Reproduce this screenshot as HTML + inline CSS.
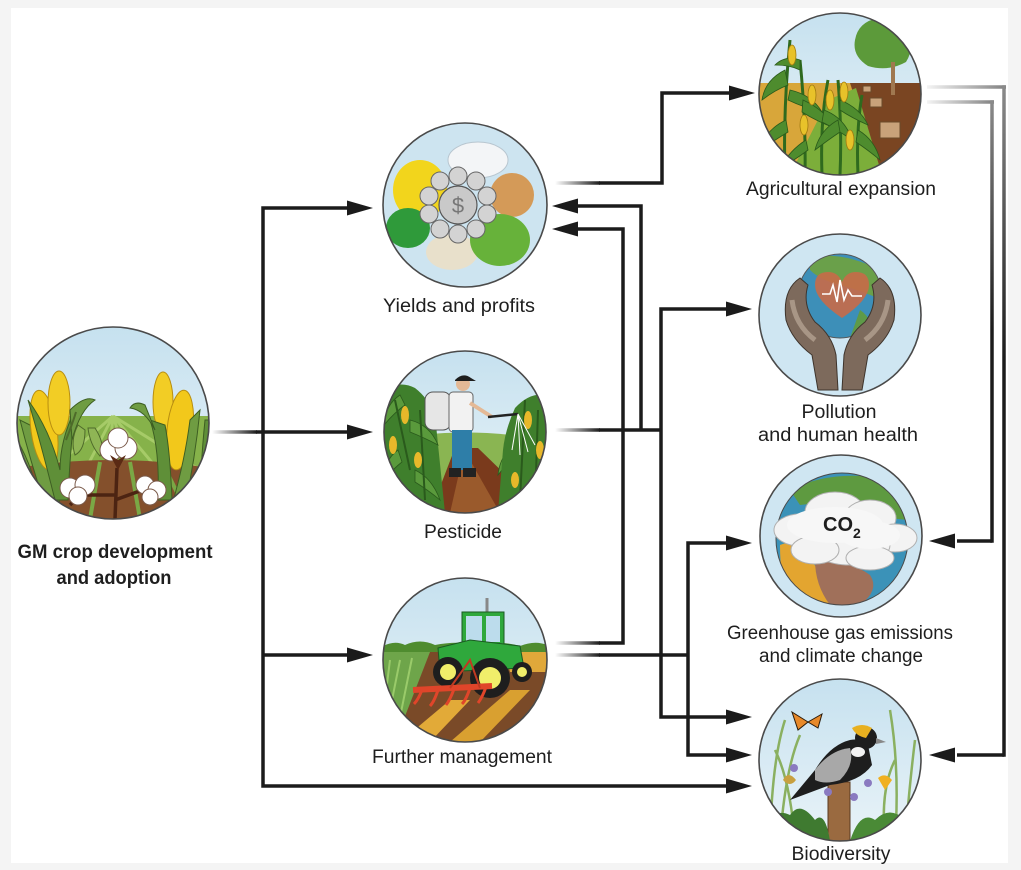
<!DOCTYPE html>
<html><head><meta charset="utf-8"><style>
html,body{margin:0;padding:0;background:#f4f4f4;}
svg{display:block;}
text{font-family:"Liberation Sans",sans-serif;fill:#1e1e1e;}
</style></head><body>
<svg width="1021" height="870" viewBox="0 0 1021 870" xmlns="http://www.w3.org/2000/svg">
<defs>
<linearGradient id="fade" x1="0" y1="0" x2="1" y2="0"><stop offset="0" stop-color="#1b1b1b" stop-opacity="0"/><stop offset="1" stop-color="#1b1b1b"/></linearGradient>
<linearGradient id="fadeR" x1="0" y1="0" x2="1" y2="0"><stop offset="0" stop-color="#1b1b1b" stop-opacity="0.05"/><stop offset="1" stop-color="#1b1b1b" stop-opacity="0.55"/></linearGradient>
<linearGradient id="vOuter" gradientUnits="userSpaceOnUse" x1="0" y1="87" x2="0" y2="360"><stop offset="0" stop-color="#8a8a8a"/><stop offset="1" stop-color="#1b1b1b"/></linearGradient>
<linearGradient id="vInner" gradientUnits="userSpaceOnUse" x1="0" y1="102" x2="0" y2="330"><stop offset="0" stop-color="#8a8a8a"/><stop offset="1" stop-color="#1b1b1b"/></linearGradient>
<linearGradient id="sky" x1="0" y1="0" x2="0" y2="1"><stop offset="0" stop-color="#c6e1ef"/><stop offset="1" stop-color="#e9f3f8"/></linearGradient>
<clipPath id="c0"><circle cx="113" cy="423" r="96"/></clipPath>
<clipPath id="c1"><circle cx="465" cy="205" r="82"/></clipPath>
<clipPath id="c2"><circle cx="465" cy="432" r="81"/></clipPath>
<clipPath id="c3"><circle cx="465" cy="660" r="82"/></clipPath>
<clipPath id="c4"><circle cx="840" cy="94" r="81"/></clipPath>
<clipPath id="c5"><circle cx="840" cy="315" r="81"/></clipPath>
<clipPath id="c6"><circle cx="841" cy="536" r="81"/></clipPath>
<clipPath id="c7"><circle cx="840" cy="760" r="81"/></clipPath>
<clipPath id="g6"><circle cx="842" cy="539" r="66"/></clipPath>
<clipPath id="g5"><circle cx="840" cy="296" r="42"/></clipPath>
</defs>

<rect x="0" y="0" width="1021" height="870" fill="#f4f4f4"/>
<rect x="11" y="8" width="997" height="855" fill="#ffffff"/>

<!-- ===== CONNECTORS ===== -->
<g fill="#1b1b1b">
<rect x="212" y="430.25" width="45" height="3.5" fill="url(#fade)"/>
<rect x="555" y="181.25" width="45" height="3.5" fill="url(#fade)"/>
<rect x="555" y="428.25" width="45" height="3.5" fill="url(#fade)"/>
<rect x="555" y="641.25" width="45" height="3.5" fill="url(#fade)"/>
<rect x="555" y="653.25" width="45" height="3.5" fill="url(#fade)"/>
</g>
<g fill="none" stroke="#1b1b1b" stroke-width="3.5" stroke-linejoin="miter" stroke-linecap="butt">
<path d="M256 432 H349"/>
<path d="M349 208 H263 V786 H728"/>
<path d="M263 655 H349"/>
<path d="M599 183 H662 V93 H731"/>
<path d="M599 430 H661"/>
<path d="M641 430 V206 H576"/>
<path d="M599 643 H623 V229 H576"/>
<path d="M728 309 H661 V717 H728"/>
<path d="M599 655 H688"/>
<path d="M728 543 H688 V755 H728"/>
<path d="M957 755 H1004"/>
<path d="M957 541 H992"/>
</g>
<rect x="927" y="85.25" width="79" height="3.5" fill="url(#fadeR)"/>
<rect x="1002.25" y="85.25" width="3.5" height="671.5" fill="url(#vOuter)"/>
<rect x="927" y="100.25" width="67" height="3.5" fill="url(#fadeR)"/>
<rect x="990.25" y="100.25" width="3.5" height="442.5" fill="url(#vInner)"/>
<g fill="#1b1b1b">
<polygon points="373,208 347,200.5 347,215.5"/>
<polygon points="373,432 347,424.5 347,439.5"/>
<polygon points="373,655 347,647.5 347,662.5"/>
<polygon points="752,786 726,778.5 726,793.5"/>
<polygon points="755,93 729,85.5 729,100.5"/>
<polygon points="552,206 578,198.5 578,213.5"/>
<polygon points="552,229 578,221.5 578,236.5"/>
<polygon points="752,309 726,301.5 726,316.5"/>
<polygon points="752,717 726,709.5 726,724.5"/>
<polygon points="752,543 726,535.5 726,550.5"/>
<polygon points="752,755 726,747.5 726,762.5"/>
<polygon points="929,541 955,533.5 955,548.5"/>
<polygon points="929,755 955,747.5 955,762.5"/>
</g>

<!-- ===== GM CROP CIRCLE ===== -->
<g clip-path="url(#c0)">
<rect x="17" y="327" width="192" height="192" fill="url(#sky)"/>
<rect x="17" y="416" width="192" height="103" fill="#86b24a"/>
<g stroke="#a6cb68" stroke-width="3" fill="none">
<path d="M113 416 L40 480 M113 416 L75 490 M113 416 L105 500 M113 416 L140 500 M113 416 L175 490 M113 416 L200 470"/>
</g>
<path d="M17 468 Q113 452 209 468 V519 H17Z" fill="#84502c"/>
<g stroke="#7aa845" stroke-width="4" fill="none">
<path d="M60 470 L35 519 M100 462 L90 519 M130 462 L140 519 M165 468 L190 519"/>
</g>
<path d="M20 420 Q30 460 45 505 L60 505 Q50 460 40 430Z" fill="#6f9c42" stroke="#3d5e22" stroke-width="1"/>
<ellipse cx="44" cy="430" rx="13" ry="40" fill="#f2c81b" stroke="#b88e10" stroke-width="1" transform="rotate(-8 44 430)"/>
<ellipse cx="59" cy="403" rx="11" ry="32" fill="#f2cd25" stroke="#b88e10" stroke-width="1"/>
<path d="M28 400 Q40 440 55 500 L68 500 Q70 450 75 410 Q60 440 60 470 Q50 430 28 400Z" fill="#5f8f38" stroke="#3d5e22" stroke-width="1"/>
<path d="M70 410 Q85 395 95 400 Q80 410 72 440Z" fill="#6f9c42" stroke="#3d5e22" stroke-width="1"/>
<path d="M17 440 Q35 470 40 510 L28 510 Q22 480 17 470Z" fill="#6f9c42" stroke="#3d5e22" stroke-width="1"/>
<path d="M78 425 Q70 440 75 455 Q85 450 85 430Z" fill="#8fb555" stroke="#4e6a2a" stroke-width="1"/>
<path d="M88 428 Q90 445 100 456 Q106 445 95 428Z" fill="#8fb555" stroke="#4e6a2a" stroke-width="1"/>
<path d="M76 412 Q72 425 66 440" stroke="#4e6a2a" stroke-width="2" fill="none"/>
<ellipse cx="163" cy="402" rx="10" ry="30" fill="#f2cd25" stroke="#b88e10" stroke-width="1"/>
<ellipse cx="180" cy="430" rx="13" ry="40" fill="#f2c81b" stroke="#b88e10" stroke-width="1" transform="rotate(6 180 430)"/>
<path d="M150 420 Q160 450 158 500 L172 500 Q170 450 165 425Z" fill="#5f8f38" stroke="#3d5e22" stroke-width="1"/>
<path d="M200 410 Q195 460 185 505 L172 505 Q185 460 190 420Z" fill="#6f9c42" stroke="#3d5e22" stroke-width="1"/>
<path d="M205 420 Q200 470 200 510 L209 510 V420Z" fill="#5f8f38" stroke="#3d5e22" stroke-width="1"/>
<path d="M145 405 Q135 400 130 408 Q145 410 155 430Z" fill="#6f9c42" stroke="#3d5e22" stroke-width="1"/>
<path d="M117 468 L115 519 M115 495 L80 495 M115 500 L148 488 M80 495 L70 505" stroke="#4c2412" stroke-width="3.5" fill="none"/>
<g fill="#ffffff" stroke="#7a5a4a" stroke-width="1">
<circle cx="111" cy="450" r="11"/><circle cx="126" cy="448" r="11"/><circle cx="118" cy="438" r="10"/>
<circle cx="70" cy="488" r="10"/><circle cx="85" cy="485" r="10"/><circle cx="78" cy="496" r="9"/>
<circle cx="145" cy="485" r="9"/><circle cx="157" cy="490" r="9"/><circle cx="150" cy="497" r="8"/>
</g>
<path d="M110 455 L118 470 L126 455 L118 460Z" fill="#5a2a14"/>
</g>
<circle cx="113" cy="423" r="96" fill="none" stroke="#4a4a4a" stroke-width="1.6"/>

<!-- ===== YIELDS ===== -->
<g clip-path="url(#c1)">
<rect x="383" y="123" width="164" height="164" fill="#cde4f0"/>
<ellipse cx="478" cy="160" rx="30" ry="18" fill="#f3f5f7" stroke="#b8c6d0" stroke-width="1"/>
<ellipse cx="420" cy="190" rx="27" ry="30" fill="#f2d51c"/>
<ellipse cx="512" cy="195" rx="22" ry="22" fill="#d49a58"/>
<ellipse cx="408" cy="228" rx="22" ry="20" fill="#2f9a3a"/>
<ellipse cx="452" cy="252" rx="26" ry="18" fill="#e8e0cb"/>
<ellipse cx="500" cy="240" rx="30" ry="26" fill="#67b23a"/>
<g fill="#d3d3d3" stroke="#666" stroke-width="1">
<circle cx="458" cy="176" r="9"/><circle cx="476" cy="181" r="9"/><circle cx="487" cy="196" r="9"/><circle cx="487" cy="214" r="9"/>
<circle cx="476" cy="229" r="9"/><circle cx="458" cy="234" r="9"/><circle cx="440" cy="229" r="9"/><circle cx="429" cy="214" r="9"/>
<circle cx="429" cy="196" r="9"/><circle cx="440" cy="181" r="9"/>
</g>
<circle cx="458" cy="205" r="19" fill="#c9c9c9" stroke="#555" stroke-width="1.2"/>
<text x="458" y="213" font-size="22" text-anchor="middle" style="fill:#777">$</text>
</g>
<circle cx="465" cy="205" r="82" fill="none" stroke="#4a4a4a" stroke-width="1.6"/>

<!-- ===== PESTICIDE ===== -->
<g clip-path="url(#c2)">
<rect x="384" y="351" width="162" height="162" fill="url(#sky)"/>
<path d="M384 440 Q465 425 546 440 V513 H384Z" fill="#8ab552"/>
<path d="M430 513 L455 448 L478 448 L545 513Z" fill="#7a3a1c"/>
<path d="M450 513 L462 460 L470 460 L500 513Z" fill="#9a5a2c"/>
<path d="M384 390 Q400 380 415 388 Q428 398 435 415 L445 513 L384 513Z" fill="#3f7f2c"/>
<g fill="#5a9a3c" stroke="#2a5a1c" stroke-width="0.8">
<path d="M400 395 Q385 405 384 425 Q395 412 405 405Z"/><path d="M410 420 Q430 425 438 445 Q425 438 410 432Z"/>
<path d="M398 450 Q384 460 384 480 Q394 468 402 462Z"/><path d="M415 470 Q432 478 440 500 Q428 490 415 482Z"/>
<path d="M520 405 Q540 410 546 430 Q534 420 520 415Z"/><path d="M515 445 Q500 455 498 475 Q508 462 518 455Z"/>
<path d="M530 470 Q546 478 546 500 Q538 488 528 480Z"/>
</g>
<path d="M395 400 L410 470 M420 410 L425 500" stroke="#2a5a1c" stroke-width="2"/>
<ellipse cx="405" cy="415" rx="4" ry="9" fill="#e8b82a"/>
<ellipse cx="393" cy="445" rx="4" ry="9" fill="#e8b82a"/>
<ellipse cx="418" cy="460" rx="4" ry="8" fill="#e8b82a"/>
<path d="M546 395 Q530 392 515 408 Q505 430 503 450 L498 513 L546 513Z" fill="#3f7f2c"/>
<path d="M525 400 L520 500 M538 410 L535 505" stroke="#2a5a1c" stroke-width="2"/>
<ellipse cx="528" cy="420" rx="4" ry="9" fill="#e8b82a"/>
<ellipse cx="540" cy="450" rx="4" ry="9" fill="#e8b82a"/>
<ellipse cx="515" cy="480" rx="4" ry="8" fill="#e8b82a"/>
<rect x="425" y="392" width="26" height="38" rx="8" fill="#e6e6e6" stroke="#555" stroke-width="1"/>
<rect x="449" y="392" width="24" height="40" rx="4" fill="#f2f2f2" stroke="#666" stroke-width="1"/>
<rect x="452" y="430" width="20" height="40" fill="#2e7ea8"/>
<rect x="449" y="468" width="12" height="9" fill="#222"/>
<rect x="463" y="468" width="13" height="9" fill="#222"/>
<circle cx="463" cy="384" r="7" fill="#e4b996"/>
<path d="M455 380 Q463 372 471 378 L476 381 L455 381Z" fill="#1e1e1e"/>
<path d="M470 403 L492 417" stroke="#e4b996" stroke-width="4"/>
<path d="M488 417 L518 414" stroke="#222" stroke-width="2.5"/>
<path d="M518 414 L512 450 M518 414 L520 455 M518 414 L528 452 M518 414 L535 445" stroke="#fff" stroke-width="1"/>
</g>
<circle cx="465" cy="432" r="81" fill="none" stroke="#4a4a4a" stroke-width="1.6"/>

<!-- ===== FURTHER MANAGEMENT ===== -->
<g clip-path="url(#c3)">
<rect x="383" y="578" width="164" height="164" fill="url(#sky)"/>
<path d="M383 646 Q395 640 405 645 Q420 638 435 645 Q460 640 480 646 Q500 640 520 646 Q535 640 547 645 V655 H383Z" fill="#4f8c2f"/>
<rect x="383" y="652" width="164" height="90" fill="#7a4a28"/>
<path d="M383 652 L430 652 L395 742 L383 742Z" fill="#6ea54a"/>
<path d="M390 660 L385 700 M400 660 L388 720 M412 658 L395 742" stroke="#9acb6a" stroke-width="2"/>
<path d="M505 652 L547 652 L547 672 L510 672Z" fill="#e0a83a"/>
<path d="M400 742 L450 700 L470 700 L430 742Z" fill="#e2aa38"/>
<path d="M450 742 L510 690 L530 690 L480 742Z" fill="#d9a030"/>
<path d="M500 742 L547 700 L547 720 L525 742Z" fill="#e2aa38"/>
<path d="M487 598 V614" stroke="#888" stroke-width="3"/>
<rect x="462" y="612" width="42" height="36" fill="#2fa83c" stroke="#1b5a22" stroke-width="1"/>
<rect x="466" y="616" width="16" height="26" fill="#bcdcec"/>
<rect x="486" y="616" width="14" height="26" fill="#bcdcec"/>
<path d="M438 648 L470 640 L520 646 L524 668 L440 672Z" fill="#2fa83c" stroke="#1b5a22" stroke-width="1"/>
<circle cx="490" cy="678" r="20" fill="#1e1e1e"/>
<circle cx="490" cy="678" r="11" fill="#f0ee6a"/>
<circle cx="448" cy="672" r="15" fill="#1e1e1e"/>
<circle cx="448" cy="672" r="8" fill="#f0ee6a"/>
<circle cx="522" cy="672" r="10" fill="#1e1e1e"/>
<circle cx="522" cy="672" r="5" fill="#f0ee6a"/>
<path d="M413 690 L492 686" stroke="#e0452a" stroke-width="6"/>
<path d="M422 690 Q418 700 414 704 M438 690 Q434 702 430 706 M454 689 Q450 700 446 705 M470 688 Q466 700 462 704 M486 687 Q482 698 478 703" stroke="#e0452a" stroke-width="3" fill="none"/>
<path d="M450 688 L470 660 L480 688" stroke="#c03a22" stroke-width="2" fill="none"/>
</g>
<circle cx="465" cy="660" r="82" fill="none" stroke="#4a4a4a" stroke-width="1.6"/>

<!-- ===== AGRICULTURAL EXPANSION ===== -->
<g clip-path="url(#c4)">
<rect x="759" y="13" width="162" height="162" fill="url(#sky)"/>
<rect x="759" y="83" width="162" height="92" fill="#d8a63a"/>
<path d="M850 83 L921 83 L921 175 L880 175Z" fill="#7a4522"/>
<path d="M828 100 L856 88 L882 175 L790 175Z" fill="#7cae3a"/>
<path d="M893 50 V95" stroke="#a07850" stroke-width="4"/>
<path d="M855 40 Q858 22 878 18 Q898 14 907 28 Q916 46 906 62 Q888 72 868 66 Q852 56 855 40Z" fill="#5c9a3a"/>
<path d="M893 62 V95" stroke="#a07850" stroke-width="4"/>
<rect x="880" y="122" width="20" height="16" fill="#c9a27a" stroke="#6a4a2a" stroke-width="1"/>
<rect x="870" y="98" width="12" height="9" fill="#c9a27a" stroke="#6a4a2a" stroke-width="1"/>
<rect x="863" y="86" width="8" height="6" fill="#c9a27a" stroke="#6a4a2a" stroke-width="1"/>
<g stroke="#2f6a1e" stroke-width="3" fill="none">
<path d="M785 175 Q783 110 790 40"/><path d="M805 175 Q806 120 800 60"/><path d="M822 175 Q820 120 828 80"/><path d="M840 175 Q842 130 838 80"/><path d="M858 175 Q856 130 862 95"/>
</g>
<g fill="#4e8c2e" stroke="#2a5a1a" stroke-width="0.8">
<path d="M785 70 Q765 80 762 100 Q775 90 788 85Z"/><path d="M790 90 Q812 95 822 112 Q805 108 788 100Z"/>
<path d="M786 120 Q765 130 760 150 Q775 140 788 132Z"/><path d="M803 100 Q825 110 835 128 Q818 122 802 112Z"/>
<path d="M806 140 Q790 150 780 168 Q795 160 808 150Z"/><path d="M824 110 Q845 118 852 140 Q838 130 822 122Z"/>
<path d="M838 120 Q820 130 815 150 Q828 140 840 132Z"/><path d="M840 100 Q860 108 868 125 Q852 118 840 110Z"/>
<path d="M858 130 Q875 140 880 160 Q868 150 856 142Z"/><path d="M800 60 Q785 55 775 65 Q790 65 800 70Z"/>
</g>
<g fill="#e8c22a" stroke="#a07a10" stroke-width="0.8">
<ellipse cx="792" cy="55" rx="4" ry="10"/><ellipse cx="812" cy="95" rx="4" ry="10"/><ellipse cx="830" cy="100" rx="4" ry="10"/>
<ellipse cx="804" cy="125" rx="4" ry="10"/><ellipse cx="844" cy="92" rx="4" ry="10"/><ellipse cx="850" cy="140" rx="4" ry="10"/>
</g>
</g>
<circle cx="840" cy="94" r="81" fill="none" stroke="#4a4a4a" stroke-width="1.6"/>

<!-- ===== POLLUTION ===== -->
<g clip-path="url(#c5)">
<rect x="759" y="234" width="162" height="162" fill="#cfe6f2"/>
<g clip-path="url(#g5)">
<rect x="798" y="254" width="84" height="84" fill="#3d8fb8"/>
<path d="M810 258 Q840 250 880 270 L882 300 Q860 290 840 285 Q820 280 810 270Z" fill="#6aa04a"/>
<path d="M800 300 Q810 320 830 338 L800 338Z" fill="#d8c8a8"/>
<path d="M860 310 Q875 320 870 338 L850 338Z" fill="#5e9a48"/>
</g>
<path d="M842 318 Q815 300 815 285 Q815 272 828 272 Q838 272 842 282 Q846 272 856 272 Q869 272 869 285 Q869 300 842 318Z" fill="#c86a48" opacity="0.9"/>
<path d="M822 294 L830 294 L833 285 L837 302 L840 280 L844 300 L848 290 L852 296 L862 296" stroke="#fff" stroke-width="1.6" fill="none"/>
<circle cx="840" cy="296" r="42" fill="none" stroke="#555" stroke-width="1"/>
<path d="M800 278 Q782 290 786 320 Q792 340 812 355 L818 390 L838 390 L836 355 Q832 335 815 322 Q802 305 808 285Z" fill="#7d6a5c" stroke="#3e342c" stroke-width="1"/>
<path d="M880 278 Q898 290 894 320 Q888 340 868 355 L862 390 L842 390 L844 355 Q848 335 865 322 Q878 305 872 285Z" fill="#7d6a5c" stroke="#3e342c" stroke-width="1"/>
<path d="M792 300 Q795 325 815 340" stroke="#a89686" stroke-width="5" fill="none"/>
<path d="M888 300 Q885 325 865 340" stroke="#a89686" stroke-width="5" fill="none"/>
</g>
<circle cx="840" cy="315" r="81" fill="none" stroke="#4a4a4a" stroke-width="1.6"/>

<!-- ===== GREENHOUSE ===== -->
<g clip-path="url(#c6)">
<rect x="760" y="455" width="162" height="162" fill="#cfe6f2"/>
<g clip-path="url(#g6)">
<rect x="776" y="473" width="132" height="132" fill="#3b92b8"/>
<path d="M790 490 Q830 470 880 478 Q905 495 908 520 L860 515 Q830 500 800 505Z" fill="#5e9a40"/>
<path d="M780 545 Q790 540 805 550 Q820 575 835 590 Q850 600 845 610 L790 610 Q780 580 780 545Z" fill="#e3a530"/>
<path d="M815 560 Q850 560 870 575 Q880 590 860 605 L830 605 Q815 585 815 560Z" fill="#a0705a"/>
</g>
<circle cx="842" cy="539" r="66" fill="none" stroke="#4a4a4a" stroke-width="1"/>
<g fill="#f3f3f3" stroke="#b0b0b0" stroke-width="1">
<ellipse cx="800" cy="530" rx="26" ry="16"/><ellipse cx="835" cy="512" rx="30" ry="20"/><ellipse cx="870" cy="518" rx="26" ry="18"/>
<ellipse cx="895" cy="538" rx="22" ry="14"/><ellipse cx="850" cy="545" rx="40" ry="20"/><ellipse cx="815" cy="550" rx="24" ry="14"/>
<ellipse cx="870" cy="558" rx="24" ry="12"/>
</g>
<g fill="#f7f7f7">
<ellipse cx="835" cy="525" rx="48" ry="18"/><ellipse cx="870" cy="535" rx="30" ry="14"/>
</g>
<text x="823" y="531" font-size="20" font-weight="bold" style="fill:#1e1e1e">CO</text>
<text x="853" y="538" font-size="14" font-weight="bold" style="fill:#1e1e1e">2</text>
</g>
<circle cx="841" cy="536" r="81" fill="none" stroke="#4a4a4a" stroke-width="1.6"/>

<!-- ===== BIODIVERSITY ===== -->
<g clip-path="url(#c7)">
<rect x="759" y="679" width="162" height="162" fill="url(#sky)"/>
<g stroke="#8ab060" stroke-width="2.5" fill="none">
<path d="M770 841 Q772 760 785 720"/><path d="M780 841 Q785 770 800 735"/><path d="M795 841 Q790 780 775 750"/>
<path d="M895 841 Q900 770 890 710"/><path d="M905 841 Q910 780 915 740"/><path d="M885 841 Q880 790 895 760"/>
</g>
<rect x="828" y="782" width="22" height="60" fill="#9a6a40" stroke="#5a3a20" stroke-width="1"/>
<path d="M790 800 L815 770 Q830 745 850 740 Q862 738 868 745 L872 765 Q860 782 830 785 Z" fill="#1e1e1e"/>
<path d="M815 770 Q830 750 850 748 Q855 765 840 780 Q825 785 815 780Z" fill="#a8a8a8"/>
<circle cx="866" cy="738" r="11" fill="#1e1e1e"/>
<path d="M852 728 Q862 722 872 728 L866 738 Q856 736 852 728Z" fill="#e8b020"/>
<path d="M876 738 L886 742 L876 744Z" fill="#888"/>
<ellipse cx="858" cy="752" rx="7" ry="5" fill="#f2f2f2"/>
<path d="M792 712 L808 722 L798 730 Z M808 722 L822 714 L818 728Z" fill="#e8892a" stroke="#2a1a0a" stroke-width="1"/>
<g fill="#8a7ac0"><circle cx="794" cy="768" r="4"/><circle cx="828" cy="792" r="4"/><circle cx="854" cy="797" r="4"/><circle cx="868" cy="783" r="4"/></g>
<path d="M878 778 Q885 772 892 780 L885 790Z" fill="#f0b020"/>
<path d="M783 780 Q788 770 796 780 Q790 788 783 780Z" fill="#c8a040"/>
<path d="M759 841 Q770 805 790 815 Q800 800 815 820 Q825 810 830 841Z" fill="#3f7a30"/>
<path d="M850 841 Q860 810 875 820 Q890 805 905 820 Q915 815 921 841Z" fill="#4a8a36"/>
</g>
<circle cx="840" cy="760" r="81" fill="none" stroke="#4a4a4a" stroke-width="1.6"/>

<!-- ===== LABELS ===== -->
<g font-size="19">
<text x="459" y="312" text-anchor="middle" textLength="152" lengthAdjust="spacingAndGlyphs">Yields and profits</text>
<text x="463" y="538" text-anchor="middle" textLength="78" lengthAdjust="spacingAndGlyphs">Pesticide</text>
<text x="462" y="763" text-anchor="middle" textLength="180" lengthAdjust="spacingAndGlyphs">Further management</text>
<text x="841" y="195" text-anchor="middle" textLength="190" lengthAdjust="spacingAndGlyphs">Agricultural expansion</text>
<text x="839" y="418" text-anchor="middle" textLength="75" lengthAdjust="spacingAndGlyphs">Pollution</text>
<text x="838" y="441" text-anchor="middle" textLength="160" lengthAdjust="spacingAndGlyphs">and human health</text>
<text x="840" y="639" text-anchor="middle" textLength="226" lengthAdjust="spacingAndGlyphs">Greenhouse gas emissions</text>
<text x="841" y="662" text-anchor="middle" textLength="164" lengthAdjust="spacingAndGlyphs">and climate change</text>
<text x="841" y="860" text-anchor="middle" textLength="99" lengthAdjust="spacingAndGlyphs">Biodiversity</text>
<text x="115" y="558" text-anchor="middle" font-weight="bold" textLength="195" lengthAdjust="spacingAndGlyphs">GM crop development</text>
<text x="114" y="584" text-anchor="middle" font-weight="bold" textLength="115" lengthAdjust="spacingAndGlyphs">and adoption</text>
</g>
</svg>
</body></html>
